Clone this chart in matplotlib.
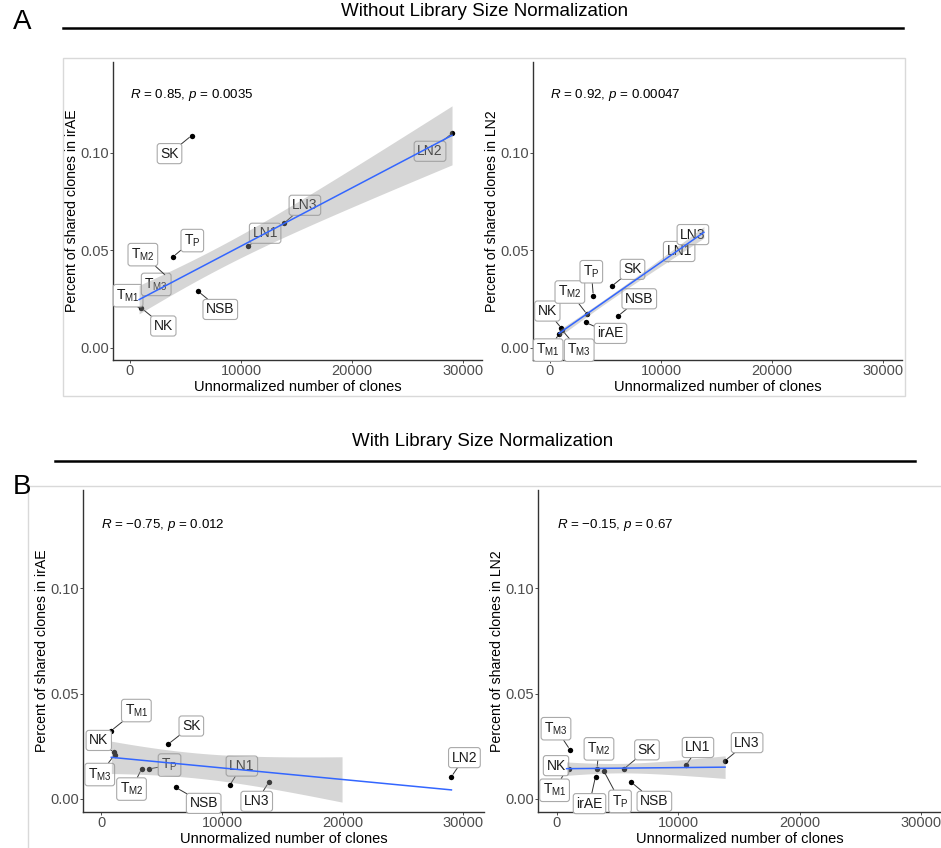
import numpy as np
import matplotlib
matplotlib.use("Agg")
import matplotlib.pyplot as plt
from matplotlib.lines import Line2D
from matplotlib.patches import Rectangle

plt.rcParams['font.family'] = ['Liberation Sans', 'DejaVu Sans']
plt.rcParams['mathtext.fontset'] = 'custom'
plt.rcParams['mathtext.rm'] = 'Liberation Sans'
plt.rcParams['mathtext.it'] = 'Liberation Sans:italic'

# unnormalized number of clones per sample (same x in every panel)
clones = {"TM1": 820, "NK": 1020, "TM3": 1100, "irAE": 3200, "TM2": 3320, "TP": 3900,
          "SK": 5540, "NSB": 6150, "LN1": 10640, "LN3": 13860, "LN2": 29000}

irae_samples = ["TM1", "NK", "TM3", "TM2", "TP", "SK", "NSB", "LN1", "LN3", "LN2"]
ln2_samples = ["TM1", "NK", "TM3", "irAE", "TM2", "TP", "SK", "NSB", "LN1", "LN3"]

# percent of shared clones
irae_raw = [0.0221, 0.0204, 0.0284, 0.0365, 0.0468, 0.1089, 0.0289, 0.0521, 0.0639, 0.1101]
ln2_raw = [0.0070, 0.0101, 0.0090, 0.0130, 0.0173, 0.0267, 0.0315, 0.0164, 0.0453, 0.0622]
irae_norm = [0.0324, 0.0220, 0.0210, 0.0141, 0.0141, 0.0260, 0.0054, 0.0065, 0.0078, 0.0105]
ln2_norm = [0.0140, 0.0143, 0.0233, 0.0105, 0.0142, 0.0130, 0.0142, 0.0078, 0.0158, 0.0181]

stats = ["$\\it{R}$ = 0.85, $\\it{p}$ = 0.0035",
         "$\\it{R}$ = 0.92, $\\it{p}$ = 0.00047",
         "$\\it{R}$ = \u22120.75, $\\it{p}$ = 0.012",
         "$\\it{R}$ = \u22120.15, $\\it{p}$ = 0.67"]

pretty = {"TM1": "T$_{\\mathrm{M1}}$", "TM2": "T$_{\\mathrm{M2}}$", "TM3": "T$_{\\mathrm{M3}}$",
          "TP": "T$_{\\mathrm{P}}$"}

# label offsets in pixels (dx, dy up)
off_tl = {"SK": (-22, -18), "LN2": (-22, -18), "LN3": (21, 18), "LN1": (17, 13), "TP": (19, 16),
          "TM2": (-24, 22), "TM3": (14, 8), "TM1": (-11, 9), "NK": (22, -18), "NSB": (22, -18)}
off_tr = {"LN3": (-11, -8), "LN1": (11, 8), "SK": (21, 17), "TP": (-2, 24), "TM2": (-17, 22),
          "NSB": (21, 17), "irAE": (25, -11), "NK": (-14, 17), "TM1": (-11, -16), "TM3": (17, -20)}
off_bl = {"TM1": (25, 20), "NK": (-15, 12), "TM3": (-15, -20), "TM2": (-10, -20), "TP": (21, 4),
          "SK": (23, 18), "NSB": (28, -16), "LN1": (12, 19), "LN3": (-12, -19), "LN2": (13, 19)}
off_br = {"TM3": (-14, 21), "TM2": (2, 20), "SK": (23, 19), "LN1": (12, 18), "LN3": (22, 18),
          "NK": (-13, 3), "TM1": (-12, -21), "irAE": (-6, -27), "TP": (16, -30), "NSB": (23, -19)}

W, H = 941, 848
fig = plt.figure(figsize=(W / 100, H / 100), dpi=100)


def px_axes(l, r, t, b):
    return fig.add_axes([l / W, 1 - b / H, (r - l) / W, (b - t) / H])


T975 = {7: 2.365, 8: 2.306, 9: 2.262}


def panel(ax, samples, yvals, offs, stat, ylabel, exclude=(), band_xmax=None, band_scale=1.0):
    x = np.array([clones[s] for s in samples], float)
    y = np.array(yvals, float)
    ax.scatter(x, y, s=15, color='black', zorder=2, linewidths=0)
    for s, xi, yi in zip(samples, x, y):
        ax.annotate(pretty.get(s, s), xy=(xi, yi), xytext=offs[s], textcoords='offset pixels',
                    ha='center', va='center', fontsize=10, color='#1A1A1A', zorder=3,
                    bbox=dict(boxstyle='round,pad=0.22,rounding_size=0.2', fc='white',
                              ec='#AAAAAA', lw=0.8),
                    arrowprops=dict(arrowstyle='-', color='#333333', lw=0.7,
                                    shrinkA=0, shrinkB=2))
    keep = np.array([s not in exclude for s in samples])
    xf, yf = x[keep], y[keep]
    n = len(xf)
    slope, icpt = np.polyfit(xf, yf, 1)
    resid = yf - (icpt + slope * xf)
    sd = np.sqrt(np.sum(resid ** 2) / (n - 2))
    sxx = np.sum((xf - xf.mean()) ** 2)
    xs = np.linspace(xf.min(), xf.max(), 200)
    ys = icpt + slope * xs
    half = band_scale * T975[n - 2] * sd * np.sqrt(1 / n + (xs - xf.mean()) ** 2 / sxx)
    m = xs <= (band_xmax if band_xmax else xs.max())
    ax.fill_between(xs[m], (ys - half)[m], (ys + half)[m], color='#999999', alpha=0.4,
                    lw=0, zorder=4)
    ax.plot(xs, ys, color='#3366FF', lw=1.1, zorder=5)
    ax.text(0, 0.130, stat, fontsize=9.6, ha='left', va='center', color='black')
    ax.set_xlim(-1530, 31700)
    ax.set_ylim(-0.0063, 0.1467)
    ax.set_xticks([0, 10000, 20000, 30000])
    ax.set_yticks([0, 0.05, 0.10])
    ax.set_yticklabels(['0.00', '0.05', '0.10'])
    ax.tick_params(labelsize=10.5, labelcolor='#4D4D4D', color='#333333', length=2, width=0.6, pad=1)
    for sp in ['top', 'right']:
        ax.spines[sp].set_visible(False)
    for sp in ['left', 'bottom']:
        ax.spines[sp].set_color('#333333')
        ax.spines[sp].set_linewidth(1.0)
    ax.set_xlabel('Unnormalized number of clones', fontsize=10.5, labelpad=1)
    ax.set_ylabel(ylabel, fontsize=10.2, labelpad=1)
    ax.patch.set_alpha(0)


# frames and headers
fig.add_artist(Rectangle((63 / W, 1 - 396 / H), (905 - 63) / W, (396 - 58) / H,
                         transform=fig.transFigure, fill=False, ec='#D9D9D9', lw=1))
fig.add_artist(Line2D([28 / W, 1], [1 - 486 / H] * 2, transform=fig.transFigure,
                      color='#D9D9D9', lw=1))
fig.add_artist(Line2D([28 / W] * 2, [1 - 486 / H, 0], transform=fig.transFigure,
                      color='#D9D9D9', lw=1))
fig.add_artist(Line2D([63 / W, 903 / W], [1 - 28 / H] * 2, transform=fig.transFigure,
                      color='black', lw=1.8))
fig.add_artist(Line2D([55 / W, 915 / W], [1 - 461 / H] * 2, transform=fig.transFigure,
                      color='black', lw=1.8))
fig.text(485 / W, 1 - 12 / H, 'Without Library Size Normalization',
         fontsize=13.5, ha='center', va='center')
fig.text(483 / W, 1 - 442 / H, 'With Library Size Normalization',
         fontsize=13.5, ha='center', va='center')
fig.text(22 / W, 1 - 22 / H, 'A', fontsize=20, ha='center', va='center')
fig.text(22 / W, 1 - 487 / H, 'B', fontsize=20, ha='center', va='center')

ax1 = px_axes(113, 482, 62, 360)
panel(ax1, irae_samples, irae_raw, off_tl, stats[0], 'Percent of shared clones in irAE',
      exclude=("SK",))
ax2 = px_axes(533, 902, 62, 360)
panel(ax2, ln2_samples, ln2_raw, off_tr, stats[1], 'Percent of shared clones in LN2',
      band_scale=0.3)
ax3 = px_axes(83, 484, 490, 812)
panel(ax3, irae_samples, irae_norm, off_bl, stats[2], 'Percent of shared clones in irAE',
      band_xmax=20000)
ax4 = px_axes(538, 942, 490, 812)
panel(ax4, ln2_samples, ln2_norm, off_br, stats[3], 'Percent of shared clones in LN2',
      band_scale=0.7)

fig.savefig('out.png', dpi=100)
